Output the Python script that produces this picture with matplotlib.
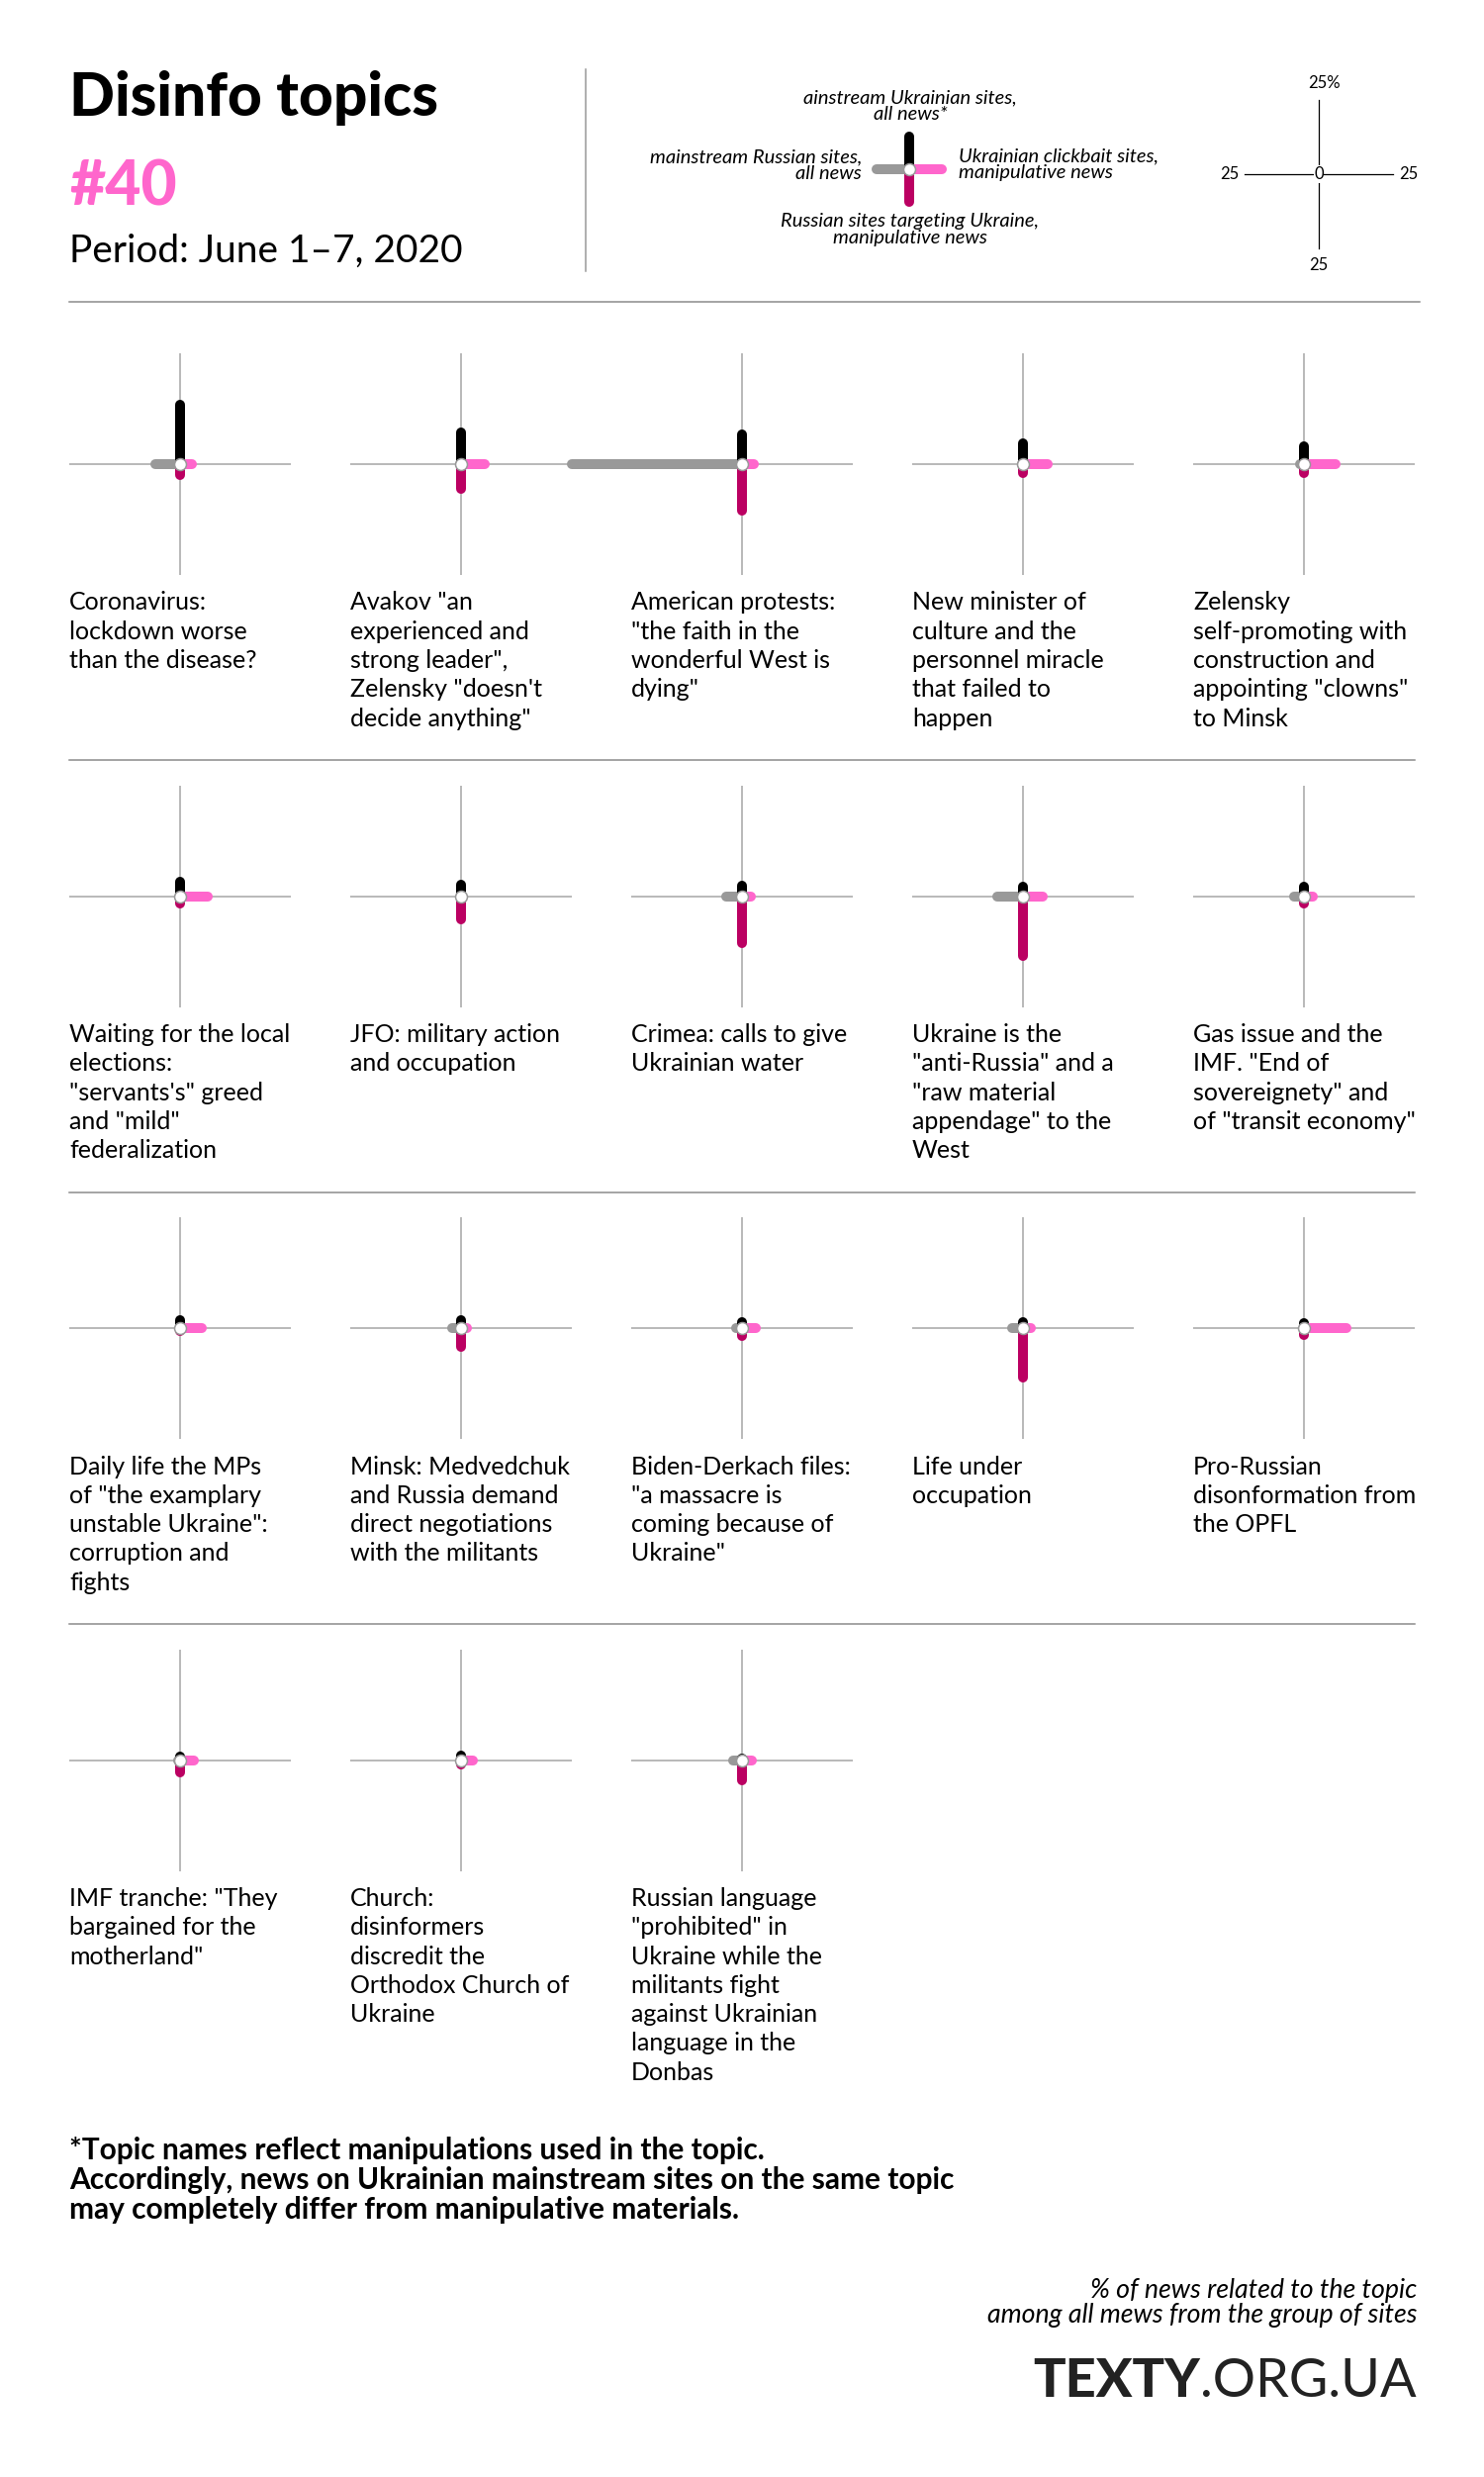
import matplotlib
matplotlib.use("Agg")
import matplotlib.pyplot as plt

plt.rcParams['font.family'] = ['Lato', 'DejaVu Sans']

# Дані: % новин за темою серед усіх новин групи сайтів
topics = [
    'Coronavirus:\nlockdown worse\nthan the disease?',
    'Avakov "an\nexperienced and\nstrong leader",\nZelensky "doesn\'t\ndecide anything"',
    'American protests:\n"the faith in the\nwonderful West is\ndying"',
    'New minister of\nculture and the\npersonnel miracle\nthat failed to\nhappen',
    'Zelensky\nself-promoting with\nconstruction and\nappointing "clowns"\nto Minsk',
    'Waiting for the local\nelections:\n"servants\'s" greed\nand "mild"\nfederalization',
    'JFO: military action\nand occupation',
    'Crimea: calls to give\nUkrainian water',
    'Ukraine is the\n"anti-Russia" and a\n"raw material\nappendage" to the\nWest',
    'Gas issue and the\nIMF. "End of\nsovereignety" and\nof "transit economy"',
    'Daily life the MPs\nof "the examplary\nunstable Ukraine":\ncorruption and\nfights',
    'Minsk: Medvedchuk\nand Russia demand\ndirect negotiations\nwith the militants',
    'Biden-Derkach files:\n"a massacre is\ncoming because of\nUkraine"',
    'Life under\noccupation',
    'Pro-Russian\ndisonformation from\nthe OPFL',
    'IMF tranche: "They\nbargained for the\nmotherland"',
    'Church:\ndisinformers\ndiscredit the\nOrthodox Church of\nUkraine',
    'Russian language\n"prohibited" in\nUkraine while the\nmilitants fight\nagainst Ukrainian\nlanguage in the\nDonbas',
]
# mainstream Ukrainian sites, all news (up)
ua_main = [20.0, 10.8, 10.0, 6.9, 5.9, 4.9, 3.8, 3.4, 3.3, 3.2, 2.7, 2.6, 1.9, 1.9, 1.8, 1.3, 1.4, 0.6]
# mainstream Russian sites, all news (left)
ru_main = [8.5, 0.3, 57.3, 0.3, 1.2, 0.0, 0.0, 5.2, 8.8, 3.2, 0.0, 2.9, 1.9, 3.7, 0.0, 0.7, 0.0, 3.0]
# Ukrainian clickbait sites, manipulative news (right)
ua_click = [4.1, 7.9, 4.1, 8.3, 10.8, 9.2, 0.0, 2.9, 6.5, 2.9, 7.4, 1.9, 4.5, 2.6, 14.4, 4.7, 4.1, 3.2]
# Russian sites targeting Ukraine, manipulative news (down)
ru_target = [3.8, 8.2, 15.7, 3.1, 3.1, 2.6, 7.8, 15.8, 20.3, 2.4, 1.1, 6.2, 2.8, 16.8, 2.3, 4.0, 1.4, 6.7]

legend_demo = [11, 11, 11, 11]  # up, left, right, down
scale_pct = 25

W, H = 1500, 2503
PX = 3.0  # пікселів на 1%
HALF = 112
LIM = HALF / PX

BLACK = '#000000'
GRAY = '#999999'
PINK = '#ff66cc'
MAGENTA = '#bb0062'
AXIS = '#a6a6a6'

col_x = [182, 466, 750, 1034, 1318]
row_y = [469, 905.5, 1342, 1778.5]


def fx(x):
    return x / W


def fy(y):
    return 1 - y / H


def cross(ax, up, left, right, down):
    kw = dict(lw=7.2, solid_capstyle='round', clip_on=False)
    ax.plot([0, -left], [0, 0], color=GRAY, zorder=2, **kw)
    ax.plot([0, right], [0, 0], color=PINK, zorder=2, **kw)
    ax.plot([0, 0], [0, up], color=BLACK, zorder=3, **kw)
    ax.plot([0, 0], [0, -down], color=MAGENTA, zorder=3, **kw)
    ax.plot(0, 0, 'o', ms=8.6, mfc='white', mec=GRAY, mew=1.1, zorder=5, clip_on=False)


def lines_text(x, y, txt, step, **kw):
    for i, line in enumerate(txt.split('\n')):
        fig.text(fx(x), fy(y + i * step), line, va='baseline', **kw)


fig = plt.figure(figsize=(W / 100, H / 100), dpi=100)

# Заголовок
fig.text(fx(70), fy(117), 'Disinfo topics', fontsize=43.5, fontweight='black', va='baseline')
fig.text(fx(70), fy(208), '#40', fontsize=45, fontweight='black', color=PINK, va='baseline')
fig.text(fx(70), fy(265), 'Period: June 1\u20137, 2020', fontsize=28, va='baseline')
fig.add_artist(plt.Line2D([fx(592), fx(592)], [fy(70), fy(274)], color=GRAY, lw=1.1))

# Легенда
lax = fig.add_axes([fx(919 - 60), fy(171 + 60), 120 / W, 120 / H])
lax.set_xlim(-60 / PX, 60 / PX)
lax.set_ylim(-60 / PX, 60 / PX)
lax.axis('off')
cross(lax, legend_demo[0], legend_demo[1], legend_demo[2], legend_demo[3])
it = dict(fontsize=14.5, style='italic')
lines_text(920, 104, 'ainstream Ukrainian sites,\nall news*', 17, ha='center', **it)
lines_text(871, 164, 'mainstream Russian sites,\nall news', 17, ha='right', **it)
lines_text(969, 163, 'Ukrainian clickbait sites,\nmanipulative news', 17, ha='left', **it)
lines_text(920, 229, 'Russian sites targeting Ukraine,\nmanipulative news', 17, ha='center', **it)

# Шкала
sax = fig.add_axes([fx(1333 - 80), fy(176 + 80), 160 / W, 160 / H])
sax.set_xlim(-80 / PX, 80 / PX)
sax.set_ylim(-80 / PX, 80 / PX)
sax.axis('off')
sax.plot([-scale_pct, scale_pct], [0, 0], color=BLACK, lw=0.9)
sax.plot([0, 0], [-scale_pct, scale_pct], color=BLACK, lw=0.9)
sax.text(0, 0, '0', ha='center', va='center', fontsize=12,
         bbox=dict(facecolor='white', edgecolor='none', pad=0.5))
sax.text(-scale_pct - 2, 0, '25', ha='right', va='center', fontsize=12)
sax.text(scale_pct + 2, 0, '25', ha='left', va='center', fontsize=12)
sax.text(0, -scale_pct - 3, '25', ha='center', va='top', fontsize=12)
sax.text(-3.6, scale_pct + 3, '25%', ha='left', va='bottom', fontsize=12)

# Роздільники
for y, x1 in zip([305, 768, 1205, 1641], [1435, 1430, 1430, 1430]):
    fig.add_artist(plt.Line2D([fx(70), fx(x1)], [fy(y), fy(y)], color='#8c8c8c', lw=1.1))

# Панелі
for i, name in enumerate(topics):
    cx = col_x[i % 5]
    cy = row_y[i // 5]
    ax = fig.add_axes([fx(cx - HALF), fy(cy + HALF), 2 * HALF / W, 2 * HALF / H])
    ax.set_xlim(-LIM, LIM)
    ax.set_ylim(-LIM, LIM)
    ax.axis('off')
    ax.axhline(0, color=AXIS, lw=1.1, zorder=1)
    ax.axvline(0, color=AXIS, lw=1.1, zorder=1)
    cross(ax, ua_main[i], ru_main[i], ua_click[i], ru_target[i])
    lines_text(cx - HALF, cy + 147.5, name, 29.3, ha='left', fontsize=18)

# Примітка
lines_text(70, 2182, '*Topic names reflect manipulations used in the topic.\n'
           'Accordingly, news on Ukrainian mainstream sites on the same topic\n'
           'may completely differ from manipulative materials.', 30,
           ha='left', fontsize=21.5, fontweight='bold')

lines_text(1432, 2322, '% of news related to the topic\namong all mews from the group of sites', 25,
           ha='right', fontsize=19.3, style='italic')

# Логотип
t2 = fig.text(fx(1432), fy(2422), '.ORG.UA', ha='right', va='baseline', fontsize=39, color='#222222')
fig.canvas.draw()
bb = t2.get_window_extent()
fig.text(bb.x0 / W, fy(2422), 'TEXTY', ha='right', va='baseline', fontsize=39,
         fontweight='black', color='#222222')

fig.savefig('out.png', dpi=100, facecolor='white')
